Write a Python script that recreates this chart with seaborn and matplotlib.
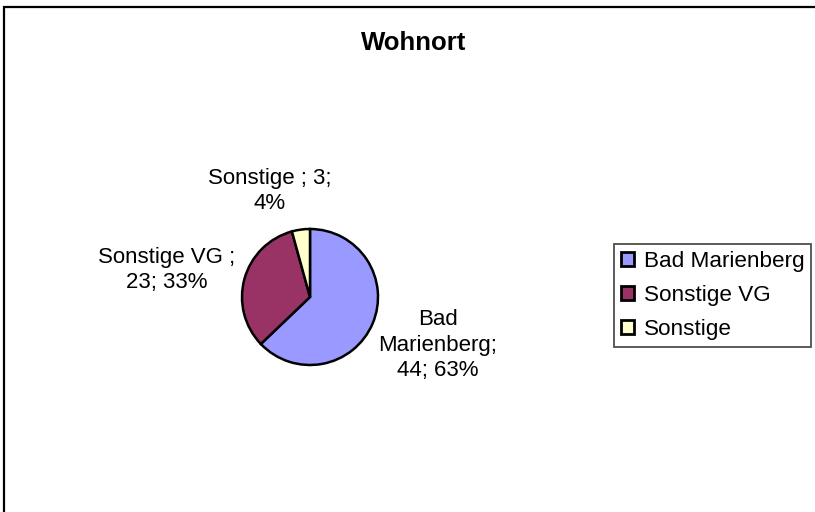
import matplotlib
matplotlib.use("Agg")
import matplotlib.pyplot as plt
import seaborn as sns
import numpy as np
from matplotlib.patches import Rectangle, Patch

# ---- data ----
categories = ["Bad Marienberg", "Sonstige VG", "Sonstige"]
values = [44, 23, 3]
percents = [63, 33, 4]
label_texts = ["Bad\nMarienberg;\n44; 63%", "Sonstige VG ;\n23; 33%", "Sonstige ; 3;\n4%"]
title = "Wohnort"

# ---- style ----
colors = ["#9999FF", "#993366", "#FFFFCC"]
sns.set_theme(style="white")
plt.rcParams["font.family"] = ["Liberation Sans", "DejaVu Sans"]

W, H = 815, 512
fig = plt.figure(figsize=(W / 100, H / 100), dpi=100)
fig.patch.set_facecolor("white")
ax = fig.add_axes([0, 0, 1, 1])
ax.set_xlim(0, W)
ax.set_ylim(0, H)
ax.set_aspect("equal")
ax.axis("off")

cx, cy, r = 310, H - 297, 68
wedges, _ = ax.pie(values, colors=colors, startangle=90, counterclock=False,
                   center=(cx, cy), radius=r,
                   wedgeprops=dict(edgecolor="black", linewidth=1.8))
ax.set_xlim(0, W)
ax.set_ylim(0, H)

# data label positions (pixel layout)
label_pos = [(438, H - 345), (167, H - 270), (270, H - 191)]
for txt, (x, y) in zip(label_texts, label_pos):
    ax.text(x, y, txt, ha="center", va="center", fontsize=16,
            linespacing=1.3, color="black")

ax.text(414, H - 43, title, ha="center", va="center", fontsize=18.5,
        fontweight="bold", color="black")

# chart border (left and top visible)
fig.patches.append(Rectangle((4 / W, -0.1), 1.2, (H - 7) / H + 0.1,
                             transform=fig.transFigure, fill=False,
                             edgecolor="black", linewidth=1.6))

handles = [Patch(facecolor=c, edgecolor="black", linewidth=2.0) for c in colors]
leg = fig.legend(handles, categories, loc="upper left",
                 bbox_to_anchor=(614 / W, 1 - 244 / H),
                 bbox_transform=fig.transFigure,
                 fontsize=16.2, frameon=True, fancybox=False, labelcolor="black",
                 handlelength=0.6, handleheight=0.6, handletextpad=0.42,
                 borderpad=0.3, labelspacing=0.58, borderaxespad=0)
leg.get_frame().set_edgecolor("#222222")
leg.get_frame().set_linewidth(1.3)

fig.savefig("out.png", dpi=100)
